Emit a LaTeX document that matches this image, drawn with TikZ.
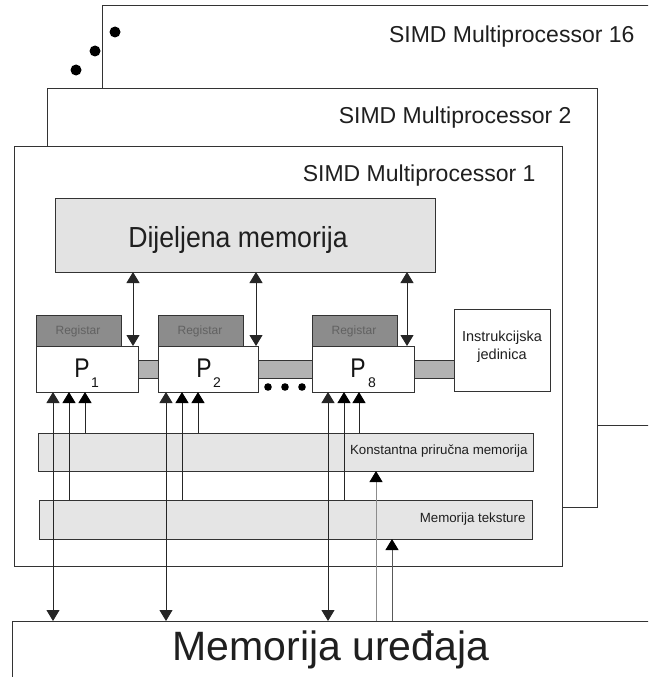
\documentclass[tikz,border=0pt]{standalone}
\usepackage{fontspec}
\setmainfont{Liberation Sans}
\usetikzlibrary{arrows.meta}
\begin{document}
\begin{tikzpicture}[x=1pt,y=-1pt,
  box/.style={draw=black!80,line width=1pt,anchor=north west,inner sep=0pt,outer sep=0pt},
  frame/.style={box,fill=white},
  shared/.style={box,fill=black!11},
  regbox/.style={box,fill=black!45},
  procbox/.style={box,fill=white},
  busbox/.style={box,fill=black!30,line width=0.8pt},
  membox/.style={box,fill=black!10},
  ln/.style={draw=black!85,line width=0.9pt},
  upar/.style={ln,-{Triangle[length=11pt,width=13pt,color=black]}},
  dblar/.style={ln,{Triangle[length=11pt,width=13pt]}-{Triangle[length=11pt,width=13pt]}},
  dotc/.style={fill=black,draw=none},
  lbl/.style={font=\fontsize{23}{25}\selectfont,text=black!88,anchor=east}
]
\useasboundingbox (0,0) rectangle (648,677);
\clip (0,0) rectangle (648,677);

% frames
\node[frame,minimum width=600pt,minimum height=419pt] (mp16) at (102,6) {};
\fill[dotc] (115,32) circle (5.5);
\fill[dotc] (95,51) circle (5.5);
\fill[dotc] (76,70) circle (5.5);
\node[frame,minimum width=550pt,minimum height=419pt] (mp2) at (47,88) {};
\node[frame,minimum width=548pt,minimum height=420pt] (mp1) at (14,146) {};

\node[lbl] (l16) at (638,37) {SIMD Multiprocessor 16};
\node[lbl] (l2) at (575,118) {SIMD Multiprocessor 2};
\node[lbl] (l1) at (539,176) {SIMD Multiprocessor 1};

% shared memory
\node[shared,minimum width=380pt,minimum height=74pt] (dm) at (55,198) {};
\node[font=\fontsize{29}{31}\selectfont,text=black!88,xscale=0.92] (dmt) at (238,240) {Dijeljena memorija};

% buses
\node[busbox,minimum width=20pt,minimum height=18pt] (b12) at (138,360) {};
\node[busbox,minimum width=54pt,minimum height=18pt] (b28) at (258,360) {};
\node[busbox,minimum width=40pt,minimum height=18pt] (b8i) at (414,360) {};

% registers
\node[regbox,minimum width=85pt,minimum height=31pt] (r1) at (36,315) {};
\node[regbox,minimum width=85pt,minimum height=31pt] (r2) at (158,315) {};
\node[regbox,minimum width=85pt,minimum height=31pt] (r8) at (312,315) {};
\node[font=\fontsize{12}{13}\selectfont,text=black!62] (r1t) at (78,331) {Registar};
\node[font=\fontsize{12}{13}\selectfont,text=black!62] (r2t) at (200,331) {Registar};
\node[font=\fontsize{12}{13}\selectfont,text=black!62] (r8t) at (354,331) {Registar};

% processors
\node[procbox,minimum width=102pt,minimum height=46pt] (p1) at (36,346) {};
\node[procbox,minimum width=100pt,minimum height=46pt] (p2) at (158,346) {};
\node[procbox,minimum width=102pt,minimum height=46pt] (p8) at (312,346) {};
\node[font=\fontsize{27}{29}\selectfont,text=black!92,xscale=0.85] (p1t) at (82,368) {P};
\node[font=\fontsize{14}{16}\selectfont,text=black!92] (p1s) at (95,383) {1};
\node[font=\fontsize{27}{29}\selectfont,text=black!92,xscale=0.85] (p2t) at (204,368) {P};
\node[font=\fontsize{14}{16}\selectfont,text=black!92] (p2s) at (217,383) {2};
\node[font=\fontsize{27}{29}\selectfont,text=black!92,xscale=0.85] (p8t) at (358,368) {P};
\node[font=\fontsize{14}{16}\selectfont,text=black!92] (p8s) at (372,383) {8};

\fill[dotc] (268,387) circle (3.8);
\fill[dotc] (285,387) circle (3.8);
\fill[dotc] (302,387) circle (3.8);

% instruction unit
\node[procbox,minimum width=96pt,minimum height=82pt] (iu) at (454,309) {};
\node[font=\fontsize{14.5}{18}\selectfont,text=black!88,align=center] (iut) at (502,347) {Instrukcijska\\jedinica};

% constant and texture memory
\node[membox,minimum width=495pt,minimum height=38pt] (km) at (38,433) {};
\node[anchor=east,font=\fontsize{13.3}{15}\selectfont,text=black!88] (kmt) at (531,451) {Konstantna priručna memorija};
\node[membox,minimum width=493pt,minimum height=39pt] (tm) at (39,500) {};
\node[anchor=east,font=\fontsize{13.3}{15}\selectfont,text=black!88] (tmt) at (529,519) {Memorija teksture};

% device memory
\node[frame,minimum width=700pt,minimum height=100pt] (dev) at (12,621) {};
\node[font=\fontsize{41}{44}\selectfont,text=black!88] (devt) at (331,650) {Memorija uređaja};

% x positions
\coordinate (xa1) at (53,0);  \coordinate (xb1) at (69,0);  \coordinate (xc1) at (85,0);
\coordinate (xa2) at (166,0); \coordinate (xb2) at (182,0); \coordinate (xc2) at (198,0);
\coordinate (xa8) at (328,0); \coordinate (xb8) at (344,0); \coordinate (xc8) at (359,0);
\coordinate (xs1) at (133,0); \coordinate (xs2) at (256,0); \coordinate (xs8) at (407,0);
\coordinate (xk) at (376,0);  \coordinate (xt) at (392,0);

% shared memory <-> processors
\draw[dblar] (dm.south -| xs1) -- (p1.north -| xs1);
\draw[dblar] (dm.south -| xs2) -- (p2.north -| xs2);
\draw[dblar] (dm.south -| xs8) -- (p8.north -| xs8);

% device memory <-> processors
\draw[dblar] (dev.north -| xa1) -- (p1.south -| xa1);
\draw[dblar] (dev.north -| xa2) -- (p2.south -| xa2);
\draw[dblar] (dev.north -| xa8) -- (p8.south -| xa8);

% texture memory -> processors
\draw[upar] (tm.north -| xb1) -- (p1.south -| xb1);
\draw[upar] (tm.north -| xb2) -- (p2.south -| xb2);
\draw[upar] (tm.north -| xb8) -- (p8.south -| xb8);

% constant memory -> processors
\draw[upar] (km.north -| xc1) -- (p1.south -| xc1);
\draw[upar] (km.north -| xc2) -- (p2.south -| xc2);
\draw[upar] (km.north -| xc8) -- (p8.south -| xc8);

% device memory -> constant / texture
\draw[upar,draw=black!45] (dev.north -| xk) -- (km.south -| xk);
\draw[upar,draw=black!65] (dev.north -| xt) -- (tm.south -| xt);
\end{tikzpicture}
\end{document}
